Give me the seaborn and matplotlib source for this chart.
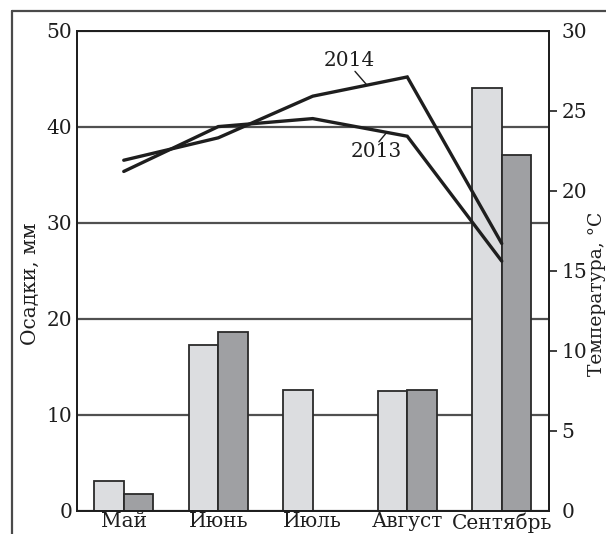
import numpy as np
import pandas as pd
import matplotlib
matplotlib.use("Agg")
import matplotlib.pyplot as plt
from matplotlib.lines import Line2D
import seaborn as sns

# Monthly precipitation (mm, bars) and mean air temperature (°C, lines)
months = ["Май", "Июнь", "Июль", "Август", "Сентябрь"]
years = ["2013", "2014"]
precip_2013 = [3.1, 17.3, 12.6, 12.5, 44.0]
precip_2014 = [1.8, 18.6, 0.0, 12.6, 37.0]
temp_2013 = [21.2, 24.0, 24.5, 23.4, 15.6]
temp_2014 = [21.9, 23.3, 25.9, 27.1, 16.7]
precip_ticks = [0, 10, 20, 30, 40, 50]
temp_ticks = [0, 5, 10, 15, 20, 25, 30]

sns.set_style("white")
plt.rcParams["font.family"] = ["DejaVu Serif"]
plt.rcParams["font.size"] = 14.5

W, H = 606, 534
fig = plt.figure(figsize=(W / 100, H / 100), dpi=100)
ax = fig.add_axes([76.5 / W, 1 - 511 / H, (549 - 76.5) / W, (511 - 30.5) / H])

pos = np.arange(len(months))
bars = pd.DataFrame({
    "month": months * 2,
    "year": [years[0]] * len(months) + [years[1]] * len(months),
    "precip": precip_2013 + precip_2014,
})
temps = pd.DataFrame({
    "pos": np.concatenate([pos, pos]),
    "year": [years[0]] * len(months) + [years[1]] * len(months),
    "temp": temp_2013 + temp_2014,
})

ink = "#1e1e1e"
sns.barplot(data=bars, x="month", y="precip", hue="year",
            palette=["#dcdde0", "#9fa0a3"], saturation=1, width=0.628,
            edgecolor="#2a2a2a", linewidth=1.3, legend=False, ax=ax)

ax.set_xlim(-0.5, len(months) - 0.5)
ax.set_ylim(0, 50)
ax.set_axisbelow(True)
ax.yaxis.grid(True, color="#505050", linewidth=1.6)
ax.xaxis.grid(False)
ax.set_xlabel("")
ax.set_ylabel("")
ax.set_xticks(pos)
ax.set_xticklabels(months)
ax.set_xticks(pos[:-1] + 0.5, minor=True)
ax.tick_params(axis="x", which="major", length=0, pad=1, colors=ink)
ax.tick_params(axis="x", which="minor", length=9, width=1.2, direction="out",
               color=ink)
ax.set_yticks(precip_ticks)
ax.tick_params(axis="y", length=0, pad=3, colors=ink)

ax2 = ax.twinx()
sns.lineplot(data=temps, x="pos", y="temp", hue="year",
             palette=[ink, ink], linewidth=2.4, legend=False, sort=False,
             ax=ax2)
for ln in ax2.get_lines():
    ln.set_solid_joinstyle("miter")
ax2.set_ylim(0, 30)
ax2.set_xlim(-0.5, len(months) - 0.5)
ax2.set_ylabel("")
ax2.set_yticks(temp_ticks)
ax2.tick_params(axis="y", length=6, width=1.2, pad=3, direction="out",
                colors=ink)
ticks2 = ax2.yaxis.get_major_ticks()
ticks2[0].tick2line.set_visible(False)
ticks2[-1].tick2line.set_visible(False)
ax2.grid(False)

for a in (ax, ax2):
    for sp in a.spines.values():
        sp.set_visible(True)
        sp.set_color(ink)
        sp.set_linewidth(1.3)

# Year labels with short leaders onto their curves
def label_curve(text, values, x_text, y_text, x0, y0, x1):
    y1 = np.interp(x1, pos, values)
    ax2.plot([x0, x1], [y0, y1], color=ink, linewidth=1.0)
    ax2.text(x_text, y_text, text, ha="center", va="center", color=ink)

label_curve("2014", temp_2014, 2.39, 28.15, 2.447, 27.45, 2.574)
label_curve("2013", temp_2013, 2.67, 22.45, 2.70, 23.05, 2.783)

fig.text(30 / W, 1 - 284 / H, "Осадки, мм", rotation=90,
         ha="center", va="center", color=ink)
fig.text(588 / W, 1 - 294 / H, "Температура, °С", rotation=90,
         ha="left", va="center", color=ink, fontsize=13.5)

# Outer frame of the figure panel
frame_kw = dict(transform=fig.transFigure, color="#4a4a4a", linewidth=1.6)
fig.add_artist(Line2D([12 / W, 12 / W], [0, 1 - 11 / H], **frame_kw))
fig.add_artist(Line2D([12 / W, 1], [1 - 11 / H, 1 - 11 / H], **frame_kw))

fig.savefig("out.png", dpi=100)
